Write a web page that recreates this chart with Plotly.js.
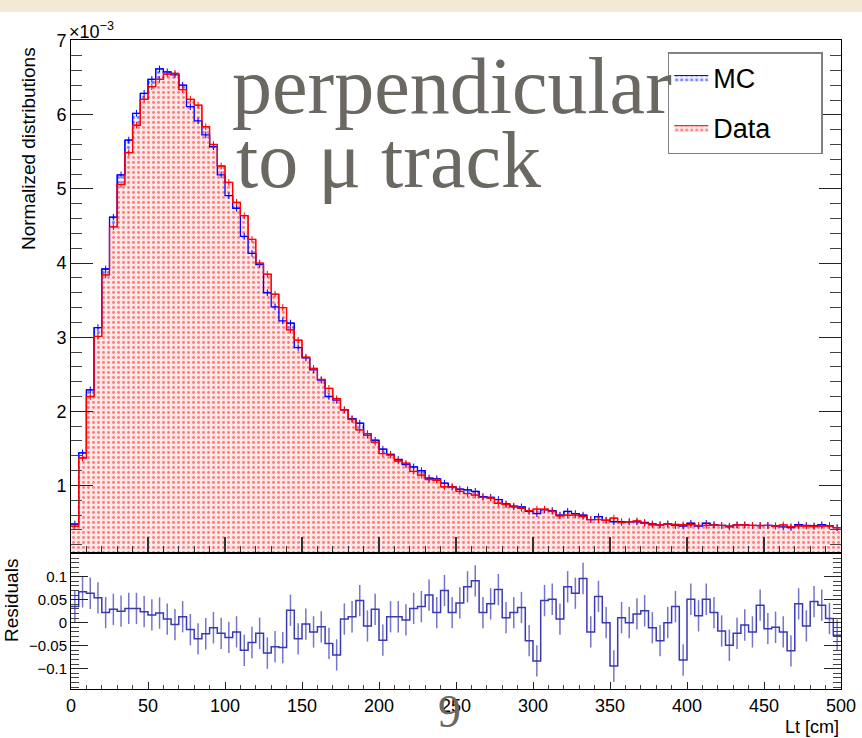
<!DOCTYPE html>
<html><head><meta charset="utf-8">
<script src="https://cdn.plot.ly/plotly-3.0.1.min.js"></script>
<style>
html,body{margin:0;padding:0;background:#f2e9d6;}
#chart{position:absolute;left:0;top:12px;width:862px;height:726px;background:#fff;}
</style></head><body><div id="chart"></div>
<script>
// ---- data (values in units of 1e-3) ----
const binWidth = 5;
const xMin = 0;
const xMax = 500;
const dataValues = [0.45,1.37,2.20,3.01,3.84,4.49,5.06,5.49,5.86,6.21,
  6.38,6.48,6.55,6.56,6.34,6.21,6.13,5.84,5.60,5.31,
  5.09,4.82,4.64,4.32,4.00,3.85,3.58,3.40,3.10,2.96,
  2.73,2.58,2.43,2.31,2.17,2.02,1.89,1.75,1.70,1.58,
  1.43,1.41,1.33,1.30,1.19,1.14,1.08,1.07,0.98,0.98,
  0.92,0.89,0.87,0.84,0.83,0.76,0.74,0.71,0.69,0.66,
  0.68,0.68,0.65,0.59,0.60,0.60,0.58,0.54,0.54,0.53,
  0.56,0.50,0.51,0.52,0.49,0.467,0.467,0.48,0.475,0.47,
  0.47,0.46,0.46,0.467,0.46,0.453,0.467,0.467,0.46,0.46,
  0.46,0.453,0.467,0.445,0.453,0.453,0.445,0.453,0.453,0.43];
const mcValues = [0.48,1.44,2.29,3.13,3.92,4.62,5.19,5.66,6.02,6.29,
  6.48,6.62,6.58,6.54,6.40,6.11,5.92,5.73,5.57,5.19,
  4.91,4.74,4.36,4.13,3.98,3.60,3.41,3.22,3.19,2.86,
  2.72,2.56,2.42,2.20,2.15,2.02,1.90,1.84,1.68,1.61,
  1.49,1.42,1.35,1.28,1.25,1.20,1.10,1.09,1.03,0.98,
  0.95,0.94,0.92,0.85,0.84,0.81,0.75,0.72,0.71,0.65,
  0.62,0.67,0.66,0.60,0.65,0.62,0.60,0.54,0.58,0.53,
  0.51,0.51,0.51,0.51,0.50,0.48,0.467,0.48,0.46,0.453,
  0.49,0.453,0.49,0.47,0.46,0.44,0.467,0.467,0.46,0.457,
  0.46,0.453,0.44,0.43,0.47,0.46,0.453,0.47,0.457,0.43];
const residuals = [0.035,0.067,0.064,0.054,0.022,0.029,0.025,0.031,0.031,0.024,
  0.017,0.021,0.008,-0.004,0.013,-0.015,-0.035,-0.024,-0.011,-0.023,
  -0.032,-0.020,-0.060,-0.043,-0.023,-0.066,-0.052,-0.054,0.027,-0.035,
  -0.003,-0.020,-0.009,-0.045,-0.070,0.008,0.013,0.048,-0.007,0.029,
  -0.038,0.013,0.013,0.006,0.031,0.035,0.060,0.022,0.070,0.022,
  0.043,0.078,0.091,0.022,0.041,0.072,0.011,0.022,0.033,-0.039,
  -0.083,0.048,0.051,0.008,0.078,0.064,0.096,-0.020,0.057,0.000,
  -0.094,0.011,0.000,0.019,0.026,-0.011,-0.039,0.000,0.035,-0.081,
  0.051,0.015,0.051,0.022,-0.018,-0.049,-0.023,-0.005,-0.020,0.038,
  -0.013,-0.010,-0.020,-0.061,0.041,-0.007,0.046,0.038,0.009,-0.027];
const topTickVals = [1,2,3,4,5,6,7];
const resTickVals = [-0.1,-0.05,0,0.05,0.1];
const resTickText = ['\u22120.1','\u22120.05','0','0.05','0.1'];
const xTickVals = [0,50,100,150,200,250,300,350,400,450,500];
const seriesNames = ['MC', 'Data'];

// ---- derived ----
const nBins = dataValues.length;
const edges = Array.from({length:nBins+1},(_,i)=>xMin+i*binWidth);
const centers = Array.from({length:nBins},(_,i)=>xMin+(i+0.5)*binWidth);
const stepY = v => v.concat([v[v.length-1]]);
const pad = '\u00a0\u00a0\u00a0\u00a0\u00a0\u00a0';

const FONT = 'Liberation Sans, Arial, sans-serif';
const BLUE = '#0000ff', RED = '#ff0000', RESC = '#3a3ab4';

const traces = [
  {x:edges, y:stepY(mcValues), type:'scatter', mode:'lines', name:seriesNames[0]+pad, legendgroup:'mc',
   line:{shape:'hv', color:BLUE, width:1}, fill:'tozeroy',
   fillpattern:{shape:'.', fgcolor:'#7777ff', bgcolor:'#eef0ff', size:5, solidity:0.28},
   xaxis:'x', yaxis:'y', hoverinfo:'skip'},
  {x:edges, y:stepY(dataValues), type:'scatter', mode:'lines', name:seriesNames[1]+pad, legendgroup:'data',
   line:{shape:'hv', color:RED, width:1}, fill:'tozeroy',
   fillpattern:{shape:'.', fgcolor:'#ff7a7a', bgcolor:'#ffe9e9', size:5, solidity:0.26},
   xaxis:'x', yaxis:'y', hoverinfo:'skip'},
  {x:edges, y:stepY(mcValues), type:'scatter', mode:'lines', showlegend:false, legendgroup:'mc',
   line:{shape:'hv', color:BLUE, width:1.3}, xaxis:'x', yaxis:'y', hoverinfo:'skip'},
  {x:centers, y:mcValues, type:'scatter', mode:'markers', showlegend:false, legendgroup:'mc',
   marker:{size:1, color:BLUE},
   error_y:{type:'constant', value:0.045, color:BLUE, thickness:1, width:0},
   xaxis:'x', yaxis:'y', hoverinfo:'skip'},
  {x:edges, y:stepY(dataValues), type:'scatter', mode:'lines', showlegend:false, legendgroup:'data',
   line:{shape:'hv', color:RED, width:1.3}, xaxis:'x', yaxis:'y', hoverinfo:'skip'},
  {x:centers, y:dataValues, type:'scatter', mode:'markers', showlegend:false, legendgroup:'data',
   marker:{size:1, color:RED},
   error_y:{type:'constant', value:0.045, color:RED, thickness:1, width:0},
   xaxis:'x', yaxis:'y', hoverinfo:'skip'},
  {x:edges, y:stepY(residuals), type:'scatter', mode:'lines', showlegend:false,
   line:{shape:'hv', color:RESC, width:1.5}, xaxis:'x2', yaxis:'y2', hoverinfo:'skip'},
  {x:centers, y:residuals, type:'scatter', mode:'markers', showlegend:false,
   marker:{size:1, color:RESC},
   error_y:{type:'constant', value:0.034, color:'rgba(58,58,180,0.7)', thickness:1.5, width:0},
   xaxis:'x2', yaxis:'y2', hoverinfo:'skip'}
];

const split = 0.2096;
const layout = {
  width:862, height:726,
  margin:{l:71, r:21, t:28, b:49},
  paper_bgcolor:'#ffffff', plot_bgcolor:'#ffffff',
  font:{family:FONT, color:'#000'},
  showlegend:true,
  legend:{x:0.775, y:0.9815, xanchor:'left', yanchor:'top', bgcolor:'#ffffff',
    bordercolor:'#808080', borderwidth:1.5, font:{size:27, family:FONT}, tracegroupgap:12,
    traceorder:'grouped', itemwidth:34},
  xaxis:{domain:[0,1], anchor:'y', range:[xMin,xMax], tickvals:xTickVals, showticklabels:false,
    ticks:'inside', ticklen:16, tickcolor:'#333', tickwidth:1.2,
    minor:{ticks:'inside', ticklen:7, dtick:10, tick0:0, tickcolor:'#333'},
    showline:true, linecolor:'#000', linewidth:1, mirror:true, showgrid:false, zeroline:false},
  yaxis:{domain:[split,1], anchor:'x', range:[0.089,7.01], tickvals:topTickVals,
    ticks:'inside', ticklen:22, tickcolor:'#222', tickfont:{size:18, family:FONT},
    minor:{ticks:'inside', ticklen:11, dtick:0.2, tick0:0, tickcolor:'#444'},
    showline:true, linecolor:'#000', linewidth:1, mirror:'ticks', showgrid:false, zeroline:false},
  xaxis2:{domain:[0,1], anchor:'y2', range:[xMin,xMax], tickvals:xTickVals,
    ticks:'inside', ticklen:7, tickcolor:'#222', tickfont:{size:18, family:FONT},
    minor:{ticks:'inside', ticklen:4, dtick:10, tick0:0, tickcolor:'#444'},
    showline:true, linecolor:'#000', linewidth:1, mirror:true, showgrid:false, zeroline:false},
  yaxis2:{domain:[0,split], anchor:'x2', range:[-0.144,0.1515], tickvals:resTickVals, ticktext:resTickText,
    ticks:'inside', ticklen:17, tickcolor:'#222', tickfont:{size:15, family:FONT},
    minor:{ticks:'inside', ticklen:8, dtick:0.01, tick0:0, tickcolor:'#444'},
    showline:true, linecolor:'#000', linewidth:1, mirror:'ticks', showgrid:false, zeroline:false},
  annotations:[
    {text:'\u00d710<sup>\u22123</sup>', xref:'paper', yref:'paper', x:-0.005, y:1.0154,
     xanchor:'left', yanchor:'middle', showarrow:false, font:{size:18, family:FONT}},
    {text:'perpendicular', xref:'paper', yref:'paper', x:0.207, y:0.929,
     xanchor:'left', yanchor:'middle', showarrow:false,
     font:{size:80, family:'Liberation Serif, DejaVu Serif, serif', color:'#6b6761'}},
    {text:'to \u03bc track', xref:'paper', yref:'paper', x:0.212, y:0.815,
     xanchor:'left', yanchor:'middle', showarrow:false,
     font:{size:80, family:'Liberation Serif, DejaVu Serif, serif', color:'#6b6761'}},
    {text:'Normalized distributions', xref:'paper', yref:'paper', x:-0.0558, y:0.832,
     xanchor:'center', yanchor:'middle', textangle:-90, showarrow:false, font:{size:19, family:FONT}},
    {text:'Residuals', xref:'paper', yref:'paper', x:-0.078, y:0.137,
     xanchor:'center', yanchor:'middle', textangle:-90, showarrow:false, font:{size:19, family:FONT}},
    {text:'Lt [cm]', xref:'paper', yref:'paper', x:1, y:-0.0586,
     xanchor:'right', yanchor:'middle', showarrow:false, font:{size:18, family:FONT}},
    {text:'9', xref:'paper', yref:'paper', x:0.491, y:-0.035,
     xanchor:'center', yanchor:'middle', showarrow:false,
     font:{size:46, family:'Liberation Serif, DejaVu Serif, serif', color:'#6b6761'}}
  ]
};

Plotly.newPlot('chart', traces, layout, {displayModeBar:false, staticPlot:true});
</script></body></html>
